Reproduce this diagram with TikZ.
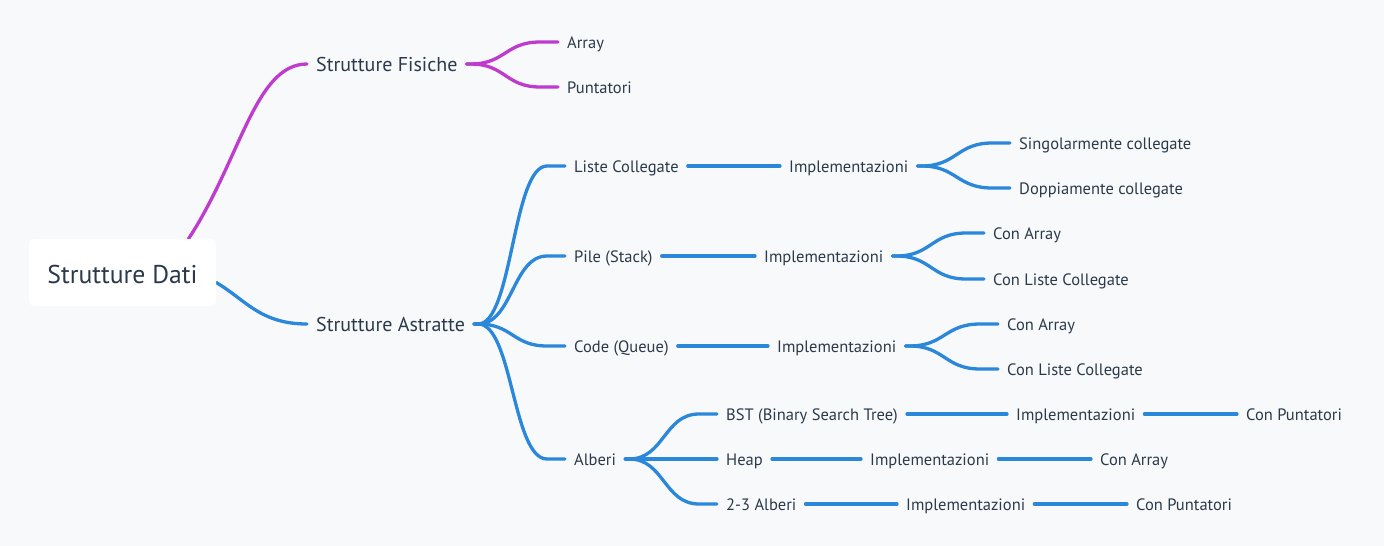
\documentclass[tikz,border=0pt]{standalone}
\usepackage{fontspec}
\setmainfont{PT Sans}
\usetikzlibrary{calc,backgrounds}
\definecolor{bg}{HTML}{F8F9FB}
\definecolor{txt}{HTML}{2B3A4A}
\definecolor{pur}{HTML}{BF3ACF}
\definecolor{blu}{HTML}{2B87DA}
\newcommand\branchto[3]{\draw[#1] let \p1=(#2.east), \p2=(#3.west), \n1={0.5*(\x1+\x2)-7pt} in (\p1) -- (\x1+4pt,\y1) .. controls (\n1,\y1) and (\n1,\y2) .. (\x2-18pt,\y2) -- (\p2);}
\begin{document}
\begin{tikzpicture}[x=1pt,y=-1pt,
  lbl/.style={anchor=west, inner xsep=9pt, inner ysep=1pt, text=txt, text height=14pt, text depth=0.6pt, font=\fontsize{16.5}{19}\selectfont},
  big/.style={lbl, text height=16pt, text depth=0.6pt, font=\fontsize{20}{24}\selectfont},
  rootbox/.style={fill=white, rounded corners=5pt, minimum width=187pt, minimum height=67pt, inner sep=0pt, text height=22pt, text depth=0pt, text=txt, font=\fontsize{25.7}{30}\selectfont},
  conn/.style={line width=3.3pt, line cap=round},
  pconn/.style={conn, draw=pur},
  bconn/.style={conn, draw=blu}]
\useasboundingbox (0,0) rectangle (1384,546);
\node[rootbox] (root) at (122.5,272.5) {Strutture Dati};
\node[big] (fis) at (307,64) {Strutture Fisiche};
\node[big] (ast) at (307,324) {Strutture Astratte};
\node[lbl] (arr) at (558,42) {Array};
\node[lbl] (pun) at (558,87) {Puntatori};
\node[lbl] (lc) at (565,166) {Liste Collegate};
\node[lbl] (ps) at (565,256) {Pile (Stack)};
\node[lbl] (cq) at (565,346) {Code (Queue)};
\node[lbl] (alb) at (565,459) {Alberi};
\node[lbl] (lci) at (780,166) {Implementazioni};
\node[lbl] (psi) at (755,256) {Implementazioni};
\node[lbl] (cqi) at (768,346) {Implementazioni};
\node[lbl] (sc) at (1010,143) {Singolarmente collegate};
\node[lbl] (dc) at (1010,188) {Doppiamente collegate};
\node[lbl] (psa) at (984,233) {Con Array};
\node[lbl] (psl) at (984,279) {Con Liste Collegate};
\node[lbl] (cqa) at (998,324) {Con Array};
\node[lbl] (cql) at (998,369) {Con Liste Collegate};
\node[lbl] (bst) at (717,414) {BST (Binary Search Tree)};
\node[lbl] (hp) at (717,459) {Heap};
\node[lbl] (t23) at (717,504) {2-3 Alberi};
\node[lbl] (bsti) at (1007,414) {Implementazioni};
\node[lbl] (hpi) at (861,459) {Implementazioni};
\node[lbl] (t23i) at (897,504) {Implementazioni};
\node[lbl] (bstp) at (1237,414) {Con Puntatori};
\node[lbl] (hpa) at (1091,459) {Con Array};
\node[lbl] (t23p) at (1127,504) {Con Puntatori};
\begin{scope}[on background layer]
\fill[bg] (0,0) rectangle (1384,546);
\draw[pconn] ($(root.north)+(66,0)$) .. controls ($(root.north)+(118,-79)$) and ($(fis.west)+(-52,0)$) .. (fis.west);
\draw[bconn] ($(root.east)+(0,10)$) .. controls ($(root.east)+(29,27)$) and ($(ast.west)+(-47,0)$) .. (ast.west);
\branchto{pconn}{fis}{arr}
\branchto{pconn}{fis}{pun}
\branchto{bconn}{ast}{lc}
\branchto{bconn}{ast}{ps}
\branchto{bconn}{ast}{cq}
\branchto{bconn}{ast}{alb}
\draw[bconn] (lc.east) -- (lci.west);
\draw[bconn] (ps.east) -- (psi.west);
\draw[bconn] (cq.east) -- (cqi.west);
\branchto{bconn}{lci}{sc}
\branchto{bconn}{lci}{dc}
\branchto{bconn}{psi}{psa}
\branchto{bconn}{psi}{psl}
\branchto{bconn}{cqi}{cqa}
\branchto{bconn}{cqi}{cql}
\branchto{bconn}{alb}{bst}
\branchto{bconn}{alb}{hp}
\branchto{bconn}{alb}{t23}
\draw[bconn] (bst.east) -- (bsti.west);
\draw[bconn] (bsti.east) -- (bstp.west);
\draw[bconn] (hp.east) -- (hpi.west);
\draw[bconn] (hpi.east) -- (hpa.west);
\draw[bconn] (t23.east) -- (t23i.west);
\draw[bconn] (t23i.east) -- (t23p.west);
\end{scope}
\end{tikzpicture}
\end{document}
